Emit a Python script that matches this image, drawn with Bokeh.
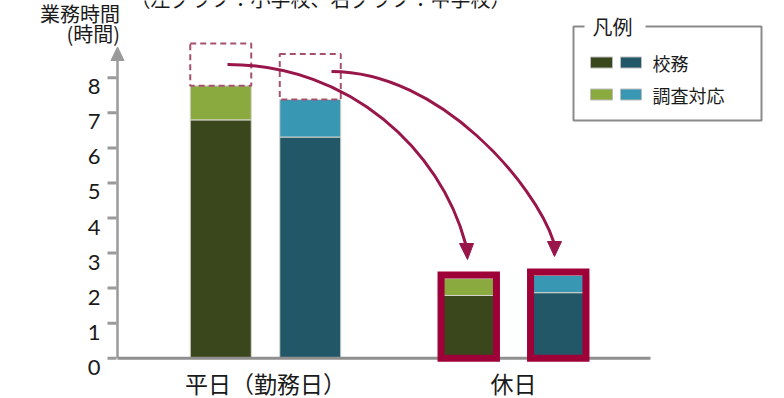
from bokeh.plotting import figure
from bokeh.models import Range1d
from bokeh.core.properties import value
from bokeh.embed import file_html
from bokeh.resources import INLINE

# ---------------- data ----------------
groups = ["平日（勤務日）", "休日"]
schools = ["小学校", "中学校"]
koumu_elem = [6.80, 1.79]      # 校務 (小学校)
chousa_elem = [0.97, 0.48]     # 調査対応 (小学校)
koumu_jhs = [6.31, 1.87]       # 校務 (中学校)
chousa_jhs = [1.07, 0.49]      # 調査対応 (中学校)
moved_top = [8.98, 8.68]       # top of dashed boxes above weekday bars
y_ticks = [0, 1, 2, 3, 4, 5, 6, 7, 8]
y_tick_labels = ["0", "1", "2", "3", "4", "5", "6", "7", "8"]
legend_title = "凡例"
legend_labels = ["校務", "調査対応"]
title_text = "（左グラフ：小学校、右グラフ：中学校）"
y_title_lines = ["業務時間", "(時間)"]

# ---------------- style ----------------
C_DG, C_LG = "#3a471c", "#8aaa40"
C_DT, C_LT = "#225768", "#3898b4"
C_EDGE = "#d4d4cc"
C_AX = "#9a9a9a"
C_RED = "#9e0038"
C_ARROW = "#98164a"
C_DASH = "#a5506f"
C_TXT = "#1a1a1a"
JP = "Noto Sans CJK JP"
NUM = "Lato"

W, H = 784, 398
X0, GX = 265.0, 248.0
Y0, GY = 357.7, 35.05
AXX = 117  # pixel column of the y axis


def xd(px):
    return (px - X0) / GX


def yd(py):
    return (Y0 - py) / GY


off = 44.75 / GX
bw = 61.0 / GX

p = figure(width=W, height=H,
           x_range=Range1d(xd(0), xd(W)), y_range=Range1d(yd(H), yd(0)),
           output_backend="svg", toolbar_location=None,
           min_border_left=0, min_border_right=0, min_border_top=0,
           min_border_bottom=0)
p.grid.visible = False
p.axis.visible = False
p.outline_line_color = None
p.background_fill_color = "white"
p.border_fill_color = "white"

# ---------------- bars ----------------
n = len(groups)
xs_e = [i - off for i in range(n)]
xs_j = [i + off for i in range(n)]
tot_e = [a + b for a, b in zip(koumu_elem, chousa_elem)]
tot_j = [a + b for a, b in zip(koumu_jhs, chousa_jhs)]

p.vbar(x=xs_e, width=bw, bottom=0, top=koumu_elem, fill_color=C_DG,
       line_color=C_EDGE, line_width=1)
p.vbar(x=xs_e, width=bw, bottom=koumu_elem, top=tot_e, fill_color=C_LG,
       line_color=C_EDGE, line_width=1)
p.vbar(x=xs_j, width=bw, bottom=0, top=koumu_jhs, fill_color=C_DT,
       line_color=C_EDGE, line_width=1)
p.vbar(x=xs_j, width=bw, bottom=koumu_jhs, top=tot_j, fill_color=C_LT,
       line_color=C_EDGE, line_width=1)

# ---------------- axes (drawn) ----------------
# x axis line
p.segment(x0=[xd(AXX)], y0=[0], x1=[xd(650)], y1=[0], line_color="#8f8f8f",
          line_width=3)
# y axis line + arrow head
p.segment(x0=[xd(AXX)], y0=[0], x1=[xd(AXX)], y1=[yd(56)], line_color=C_AX,
          line_width=2.5)
p.patch(x=[xd(AXX - 6.5), xd(AXX + 6.5), xd(AXX)],
        y=[yd(60), yd(60), yd(46.5)], fill_color=C_AX, line_color=C_AX,
        line_width=1)
# y ticks
p.segment(x0=[xd(AXX - 10)] * len(y_ticks), y0=y_ticks,
          x1=[xd(AXX - 1)] * len(y_ticks), y1=y_ticks,
          line_color=C_AX, line_width=3)
# y tick labels (sit a little below their ticks, as in the source)
p.text(x=[xd(100)] * len(y_ticks), y=[t - 9 / GY for t in y_ticks],
       text=y_tick_labels, text_font=value(NUM), text_font_size="22px",
       text_align="right", text_baseline="middle", text_color=C_TXT)
# category labels
p.text(x=list(range(n)), y=[yd(382)] * n, text=groups, text_font=value(JP),
       text_font_size="23px", text_align="center", text_baseline="middle",
       text_color=C_TXT)

# ---------------- annotations ----------------
# dashed boxes on weekday bars
p.quad(left=[xs_e[0] - bw / 2, xs_j[0] - bw / 2],
       right=[xs_e[0] + bw / 2, xs_j[0] + bw / 2],
       bottom=[tot_e[0], tot_j[0]], top=moved_top,
       fill_color=None, line_color=C_DASH, line_width=2, line_dash="6 4")

# holiday frames
ins = 2.8 / GX
pad = 3.6 / GY
p.quad(left=[xs_e[1] - bw / 2 + ins, xs_j[1] - bw / 2 + ins],
       right=[xs_e[1] + bw / 2 - ins, xs_j[1] + bw / 2 - ins],
       bottom=[0, 0], top=[tot_e[1] + pad, tot_j[1] + pad],
       fill_color=None, line_color=C_RED, line_width=7, line_join="miter")

# curved arrows (pixel geometry of the annotation)
arrows_px = [((227, 64), (350, 64), (440, 150), (465, 243)),
             ((331, 71), (440, 71), (535, 185), (553, 241))]
heads_px = [((459, 243), (473, 243), (467, 259)),
            ((547, 241), (561, 241), (554, 256))]
for (s, c0, c1, e), hd in zip(arrows_px, heads_px):
    p.bezier(x0=[xd(s[0])], y0=[yd(s[1])], x1=[xd(e[0])], y1=[yd(e[1])],
             cx0=[xd(c0[0])], cy0=[yd(c0[1])], cx1=[xd(c1[0])], cy1=[yd(c1[1])],
             line_color=C_ARROW, line_width=3)
    p.patch(x=[xd(q[0]) for q in hd], y=[yd(q[1]) for q in hd],
            fill_color=C_ARROW, line_color=C_ARROW, line_width=1)

# y axis title
p.text(x=[xd(119.5)] * 2, y=[yd(13), yd(33)], text=y_title_lines,
       text_font=value(JP), text_font_size="20px", text_align="right",
       text_baseline="middle", text_color=C_TXT)

# top title (cut off by the top edge, as in the source)
p.text(x=[xd(130)], y=[yd(-2)], text=[title_text], text_font=value(JP),
       text_font_size="20px", text_baseline="alphabetic", text_align="left",
       text_color=C_TXT)

# ---------------- legend ----------------
p.quad(left=[xd(573)], right=[xd(761)], top=[yd(26)], bottom=[yd(120)],
       fill_color="white", line_color="#8a8a8a", line_width=2)
p.quad(left=[xd(584)], right=[xd(645)], top=[yd(14)], bottom=[yd(38)],
       fill_color="white", line_color=None)
p.text(x=[xd(592)], y=[yd(26)], text=[legend_title], text_font=value(JP),
       text_font_size="20px", text_baseline="middle", text_align="left",
       text_color=C_TXT)
rows = [62, 94]
p.quad(left=[xd(590)] * 2, right=[xd(612)] * 2,
       top=[yd(r - 5.5) for r in rows], bottom=[yd(r + 5.5) for r in rows],
       fill_color=[C_DG, C_LG], line_color="#bcbcbc", line_width=1)
p.quad(left=[xd(620)] * 2, right=[xd(641)] * 2,
       top=[yd(r - 5.5) for r in rows], bottom=[yd(r + 5.5) for r in rows],
       fill_color=[C_DT, C_LT], line_color="#bcbcbc", line_width=1)
p.text(x=[xd(652)] * 2, y=[yd(r) for r in rows], text=legend_labels,
       text_font=value(JP), text_font_size="18px", text_baseline="middle",
       text_align="left", text_color=C_TXT)

open("out.html", "w").write(file_html(p, INLINE))
